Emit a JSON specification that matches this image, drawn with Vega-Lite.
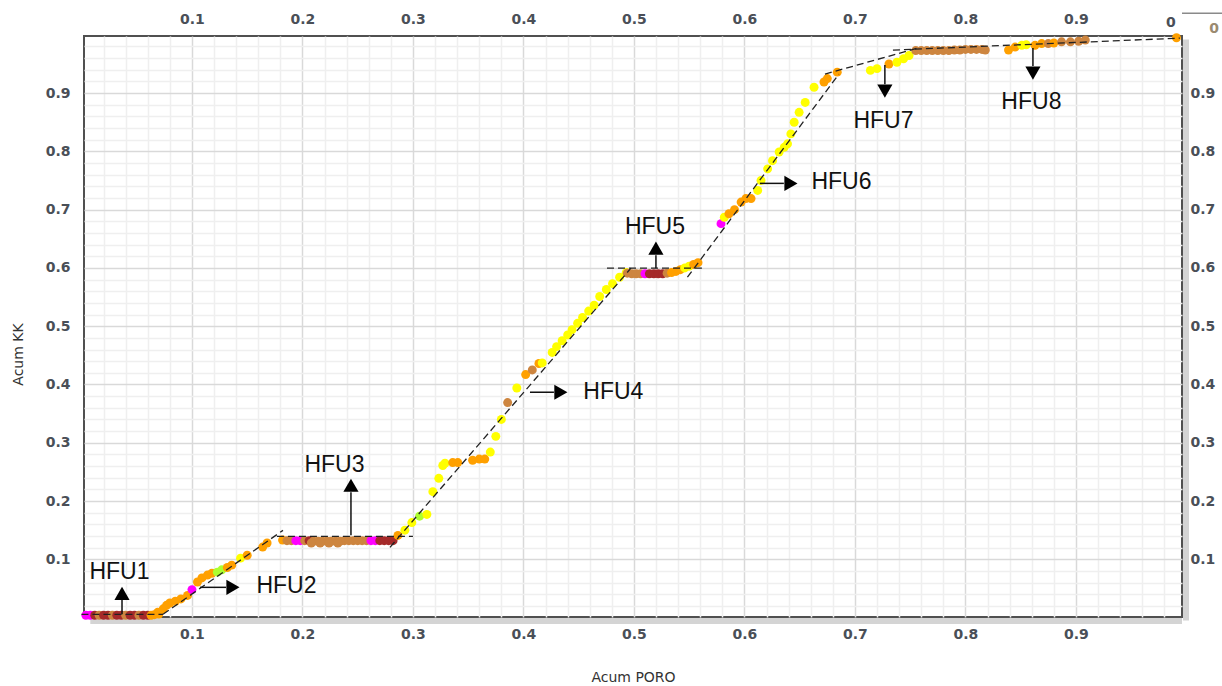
{
  "$schema": "https://vega.github.io/schema/vega-lite/v6.json",
  "width": 1098,
  "height": 581,
  "autosize": "none",
  "padding": {"left": 84, "top": 36, "right": 40, "bottom": 69},
  "background": "white",
  "config": {
    "view": {"stroke": "#505050", "strokeWidth": 2},
    "axis": {
      "labelFont": "DejaVu Sans",
      "labelFontWeight": "bold",
      "labelFontSize": 14,
      "labelColor": "#4a4f57",
      "ticks": false,
      "domain": false,
      "labelFlush": false,
      "labelOverlap": false,
      "titleFont": "DejaVu Sans",
      "titleFontWeight": "normal",
      "titleFontSize": 14,
      "titleColor": "#333333"
    }
  },
  "datasets": {
    "pts": [
      {"x":0.004,"y":0.004,"c":"M"},{"x":0.008,"y":0.004,"c":"M"},{"x":0.012,"y":0.004,"c":"R"},{"x":0.016,"y":0.004,"c":"P"},
      {"x":0.020,"y":0.004,"c":"R"},{"x":0.024,"y":0.004,"c":"R"},{"x":0.028,"y":0.004,"c":"P"},{"x":0.032,"y":0.004,"c":"R"},
      {"x":0.036,"y":0.004,"c":"R"},{"x":0.040,"y":0.004,"c":"P"},{"x":0.044,"y":0.004,"c":"R"},{"x":0.048,"y":0.004,"c":"R"},
      {"x":0.052,"y":0.004,"c":"P"},{"x":0.056,"y":0.004,"c":"R"},{"x":0.060,"y":0.004,"c":"R"},{"x":0.063,"y":0.004,"c":"O"},
      {"x":0.066,"y":0.005,"c":"O"},{"x":0.070,"y":0.006,"c":"O"},
      {"x":0.069,"y":0.009,"c":"O"},{"x":0.074,"y":0.015,"c":"O"},{"x":0.077,"y":0.021,"c":"O"},{"x":0.080,"y":0.025,"c":"O"},
      {"x":0.085,"y":0.028,"c":"O"},{"x":0.090,"y":0.032,"c":"O"},{"x":0.096,"y":0.038,"c":"O"},{"x":0.100,"y":0.048,"c":"M"},
      {"x":0.105,"y":0.061,"c":"O"},{"x":0.109,"y":0.068,"c":"O"},{"x":0.114,"y":0.073,"c":"O"},{"x":0.118,"y":0.076,"c":"O"},
      {"x":0.123,"y":0.078,"c":"G"},{"x":0.127,"y":0.082,"c":"G"},{"x":0.132,"y":0.086,"c":"O"},{"x":0.136,"y":0.090,"c":"O"},
      {"x":0.144,"y":0.102,"c":"Y"},{"x":0.150,"y":0.107,"c":"O"},{"x":0.164,"y":0.121,"c":"O"},{"x":0.168,"y":0.128,"c":"O"},
      {"x":0.182,"y":0.133,"c":"O"},{"x":0.186,"y":0.132,"c":"P"},{"x":0.190,"y":0.132,"c":"P"},{"x":0.194,"y":0.132,"c":"M"},
      {"x":0.198,"y":0.132,"c":"M"},{"x":0.202,"y":0.132,"c":"P"},{"x":0.206,"y":0.132,"c":"R"},{"x":0.210,"y":0.131,"c":"P"},
      {"x":0.214,"y":0.131,"c":"P"},{"x":0.218,"y":0.131,"c":"P"},{"x":0.222,"y":0.131,"c":"P"},{"x":0.226,"y":0.131,"c":"P"},
      {"x":0.230,"y":0.131,"c":"P"},{"x":0.234,"y":0.131,"c":"P"},{"x":0.238,"y":0.132,"c":"P"},{"x":0.242,"y":0.132,"c":"P"},
      {"x":0.246,"y":0.132,"c":"P"},{"x":0.250,"y":0.132,"c":"P"},{"x":0.254,"y":0.132,"c":"P"},{"x":0.258,"y":0.132,"c":"P"},
      {"x":0.208,"y":0.128,"c":"P"},{"x":0.216,"y":0.128,"c":"P"},{"x":0.224,"y":0.128,"c":"P"},{"x":0.232,"y":0.128,"c":"P"},
      {"x":0.262,"y":0.132,"c":"M"},{"x":0.266,"y":0.132,"c":"M"},{"x":0.270,"y":0.132,"c":"R"},{"x":0.274,"y":0.132,"c":"R"},
      {"x":0.278,"y":0.132,"c":"R"},{"x":0.282,"y":0.132,"c":"R"},
      {"x":0.2864,"y":0.141,"c":"O"},{"x":0.2927,"y":0.150,"c":"Y"},{"x":0.299,"y":0.163,"c":"Y"},{"x":0.306,"y":0.174,"c":"G"},
      {"x":0.3126,"y":0.177,"c":"Y"},{"x":0.318,"y":0.216,"c":"Y"},{"x":0.3234,"y":0.239,"c":"Y"},{"x":0.327,"y":0.261,"c":"Y"},
      {"x":0.329,"y":0.265,"c":"Y"},{"x":0.336,"y":0.266,"c":"O"},{"x":0.3406,"y":0.266,"c":"O"},{"x":0.354,"y":0.270,"c":"O"},
      {"x":0.360,"y":0.272,"c":"O"},{"x":0.365,"y":0.272,"c":"O"},{"x":0.370,"y":0.284,"c":"Y"},{"x":0.375,"y":0.311,"c":"Y"},
      {"x":0.380,"y":0.340,"c":"Y"},{"x":0.3857,"y":0.369,"c":"P"},{"x":0.394,"y":0.394,"c":"Y"},{"x":0.402,"y":0.417,"c":"O"},
      {"x":0.408,"y":0.425,"c":"P"},{"x":0.414,"y":0.436,"c":"O"},{"x":0.417,"y":0.437,"c":"Y"},{"x":0.426,"y":0.455,"c":"Y"},
      {"x":0.430,"y":0.465,"c":"Y"},{"x":0.435,"y":0.475,"c":"Y"},{"x":0.440,"y":0.485,"c":"Y"},{"x":0.444,"y":0.494,"c":"Y"},
      {"x":0.449,"y":0.505,"c":"Y"},{"x":0.4535,"y":0.515,"c":"Y"},{"x":0.459,"y":0.526,"c":"Y"},{"x":0.464,"y":0.536,"c":"Y"},
      {"x":0.469,"y":0.551,"c":"Y"},{"x":0.475,"y":0.563,"c":"Y"},{"x":0.4806,"y":0.573,"c":"Y"},{"x":0.487,"y":0.584,"c":"Y"},
      {"x":0.493,"y":0.592,"c":"Y"},
      {"x":0.494,"y":0.591,"c":"P"},{"x":0.498,"y":0.590,"c":"P"},{"x":0.502,"y":0.590,"c":"P"},{"x":0.506,"y":0.590,"c":"P"},
      {"x":0.510,"y":0.590,"c":"M"},{"x":0.514,"y":0.590,"c":"R"},{"x":0.518,"y":0.590,"c":"R"},{"x":0.522,"y":0.590,"c":"R"},
      {"x":0.526,"y":0.590,"c":"R"},{"x":0.530,"y":0.591,"c":"P"},{"x":0.534,"y":0.592,"c":"O"},{"x":0.538,"y":0.594,"c":"O"},
      {"x":0.542,"y":0.597,"c":"O"},{"x":0.546,"y":0.600,"c":"Y"},{"x":0.550,"y":0.603,"c":"Y"},{"x":0.554,"y":0.606,"c":"O"},
      {"x":0.558,"y":0.609,"c":"O"},
      {"x":0.5788,"y":0.676,"c":"M"},{"x":0.5818,"y":0.687,"c":"Y"},{"x":0.586,"y":0.693,"c":"O"},{"x":0.591,"y":0.700,"c":"O"},
      {"x":0.597,"y":0.713,"c":"O"},{"x":0.6013,"y":0.719,"c":"O"},{"x":0.606,"y":0.719,"c":"O"},{"x":0.612,"y":0.733,"c":"Y"},
      {"x":0.615,"y":0.750,"c":"Y"},{"x":0.621,"y":0.770,"c":"Y"},{"x":0.6254,"y":0.784,"c":"Y"},{"x":0.6314,"y":0.799,"c":"Y"},
      {"x":0.636,"y":0.807,"c":"Y"},{"x":0.639,"y":0.813,"c":"Y"},{"x":0.642,"y":0.830,"c":"Y"},{"x":0.645,"y":0.850,"c":"Y"},
      {"x":0.6495,"y":0.867,"c":"Y"},{"x":0.655,"y":0.884,"c":"Y"},{"x":0.663,"y":0.910,"c":"Y"},{"x":0.672,"y":0.919,"c":"O"},
      {"x":0.675,"y":0.925,"c":"O"},{"x":0.684,"y":0.936,"c":"O"},
      {"x":0.714,"y":0.939,"c":"Y"},{"x":0.720,"y":0.942,"c":"Y"},{"x":0.7308,"y":0.950,"c":"O"},{"x":0.738,"y":0.953,"c":"Y"},
      {"x":0.744,"y":0.959,"c":"Y"},{"x":0.749,"y":0.9645,"c":"Y"},{"x":0.755,"y":0.973,"c":"P"},
      {"x":0.760,"y":0.973,"c":"P"},{"x":0.765,"y":0.973,"c":"P"},{"x":0.770,"y":0.973,"c":"P"},{"x":0.775,"y":0.973,"c":"P"},
      {"x":0.780,"y":0.973,"c":"P"},{"x":0.785,"y":0.973,"c":"P"},{"x":0.790,"y":0.974,"c":"P"},{"x":0.795,"y":0.974,"c":"P"},
      {"x":0.800,"y":0.975,"c":"P"},{"x":0.805,"y":0.975,"c":"P"},{"x":0.810,"y":0.975,"c":"P"},{"x":0.815,"y":0.975,"c":"P"},
      {"x":0.818,"y":0.974,"c":"P"},
      {"x":0.839,"y":0.974,"c":"O"},{"x":0.845,"y":0.979,"c":"O"},{"x":0.851,"y":0.982,"c":"Y"},{"x":0.855,"y":0.983,"c":"Y"},
      {"x":0.863,"y":0.982,"c":"O"},{"x":0.869,"y":0.985,"c":"O"},{"x":0.875,"y":0.985,"c":"P"},{"x":0.880,"y":0.986,"c":"O"},
      {"x":0.887,"y":0.988,"c":"P"},{"x":0.895,"y":0.988,"c":"P"},{"x":0.9025,"y":0.989,"c":"P"},{"x":0.9085,"y":0.991,"c":"P"},
      {"x":0.991,"y":0.995,"c":"O"}
    ],
    "segs": [
      {"x":0.0,"y":0.0056,"x2":0.0738,"y2":0.0056},
      {"x":0.0738,"y":0.0056,"x2":0.1824,"y2":0.1497},
      {"x":0.1769,"y":0.1395,"x2":0.300,"y2":0.1395},
      {"x":0.2792,"y":0.1206,"x2":0.4973,"y2":0.5996},
      {"x":0.4756,"y":0.5996,"x2":0.5615,"y2":0.5996},
      {"x":0.5484,"y":0.5841,"x2":0.6855,"y2":0.9326},
      {"x":0.6729,"y":0.9326,"x2":0.7569,"y2":0.9773},
      {"x":0.7344,"y":0.9738,"x2":0.9941,"y2":0.9944}
    ],
    "shafts": [
      {"x":0.0367,"y":0.0056,"x2":0.0367,"y2":0.0313},
      {"x":0.1072,"y":0.0519,"x2":0.1308,"y2":0.0519},
      {"x":0.2439,"y":0.1412,"x2":0.2439,"y2":0.2150},
      {"x":0.4059,"y":0.3867,"x2":0.4276,"y2":0.3867},
      {"x":0.5199,"y":0.5996,"x2":0.5199,"y2":0.6219},
      {"x":0.6140,"y":0.7451,"x2":0.6357,"y2":0.7451},
      {"x":0.7271,"y":0.9481,"x2":0.7271,"y2":0.9153},
      {"x":0.8611,"y":0.9773,"x2":0.8611,"y2":0.9464}
    ],
    "heads": [
      {"x":0.0367,"y":0.0416,"s":"triangle-up"},
      {"x":0.1371,"y":0.0519,"s":"triangle-right"},
      {"x":0.2439,"y":0.2270,"s":"triangle-up"},
      {"x":0.4339,"y":0.3867,"s":"triangle-right"},
      {"x":0.5199,"y":0.6339,"s":"triangle-up"},
      {"x":0.6421,"y":0.7451,"s":"triangle-right"},
      {"x":0.7271,"y":0.9034,"s":"triangle-down"},
      {"x":0.8611,"y":0.9343,"s":"triangle-down"}
    ],
    "labels": [
      {"x":0.0344,"y":0.0785,"t":"HFU1"},
      {"x":0.1855,"y":0.0545,"t":"HFU2"},
      {"x":0.2290,"y":0.2622,"t":"HFU3"},
      {"x":0.4814,"y":0.3867,"t":"HFU4"},
      {"x":0.5190,"y":0.6708,"t":"HFU5"},
      {"x":0.6878,"y":0.7472,"t":"HFU6"},
      {"x":0.7258,"y":0.8519,"t":"HFU7"},
      {"x":0.8597,"y":0.8845,"t":"HFU8"}
    ],
    "zeroA": [
      {"x":0.986,"y":1.021,"t":"0"}
    ],
    "zeroB": [
      {"x":1.025,"y":1.010,"t":"0"}
    ],
    "topline": [
      {"x":0.996,"x2":1.04,"y":1.037}
    ],
    "frameR": [
      {"x":0.996,"y":-0.005,"y2":0.992}
    ],
    "frameB": [
      {"y":0.001,"x":0.008,"x2":0.996}
    ]
  },
  "layer": [
    {
      "data": {"name": "frameR"},
      "mark": {"type": "rule", "color": "#d4d4d4", "strokeWidth": 6, "xOffset": 4},
      "encoding": {
        "x": {"field": "x", "type": "quantitative", "axis": null, "scale": {"domain": [0.0023, 0.996], "nice": false, "zero": false}},
        "y": {"field": "y", "type": "quantitative", "axis": null, "scale": {"domain": [0.001, 0.998], "nice": false, "zero": false}},
        "y2": {"field": "y2"}
      }
    },
    {
      "data": {"name": "frameB"},
      "mark": {"type": "rule", "color": "#d4d4d4", "strokeWidth": 6, "yOffset": 4},
      "encoding": {
        "x": {"field": "x", "type": "quantitative", "axis": null},
        "y": {"field": "y", "type": "quantitative", "axis": null},
        "x2": {"field": "x2"}
      }
    },
    {
      "data": {"name": "pts"},
      "mark": {"type": "circle", "size": 80, "opacity": 1},
      "encoding": {
        "x": {
          "field": "x", "type": "quantitative",
          "scale": {"domain": [0.0023, 0.996], "nice": false, "zero": false},
          "axis": {
            "orient": "bottom",
            "values": [0.02,0.04,0.06,0.08,0.1,0.12,0.14,0.16,0.18,0.2,0.22,0.24,0.26,0.28,0.3,0.32,0.34,0.36,0.38,0.4,0.42,0.44,0.46,0.48,0.5,0.52,0.54,0.56,0.58,0.6,0.62,0.64,0.66,0.68,0.7,0.72,0.74,0.76,0.78,0.8,0.82,0.84,0.86,0.88,0.9,0.92,0.94,0.96,0.98],
            "labelExpr": "abs(datum.value*10 - round(datum.value*10)) < 0.001 ? format(datum.value, '.1f') : ''",
            "grid": true,
            "gridColor": {"condition": {"test": "abs(datum.value*10 - round(datum.value*10)) < 0.001", "value": "#d9d9d9"}, "value": "#efefef"},
            "gridWidth": 1.5,
            "labelPadding": 10,
            "title": "Acum PORO",
            "titleY": 60,
            "titleBaseline": "middle"
          }
        },
        "y": {
          "field": "y", "type": "quantitative",
          "scale": {"domain": [0.001, 0.998], "nice": false, "zero": false},
          "axis": {
            "orient": "left",
            "values": [0.02,0.04,0.06,0.08,0.1,0.12,0.14,0.16,0.18,0.2,0.22,0.24,0.26,0.28,0.3,0.32,0.34,0.36,0.38,0.4,0.42,0.44,0.46,0.48,0.5,0.52,0.54,0.56,0.58,0.6,0.62,0.64,0.66,0.68,0.7,0.72,0.74,0.76,0.78,0.8,0.82,0.84,0.86,0.88,0.9,0.92,0.94,0.96,0.98],
            "labelExpr": "abs(datum.value*10 - round(datum.value*10)) < 0.001 ? format(datum.value, '.1f') : ''",
            "grid": true,
            "gridColor": {"condition": {"test": "abs(datum.value*10 - round(datum.value*10)) < 0.001", "value": "#d9d9d9"}, "value": "#efefef"},
            "gridWidth": 1.5,
            "labelPadding": 14,
            "title": "Acum KK",
            "titleX": -66,
            "titleY": 318,
            "titleBaseline": "middle"
          }
        },
        "color": {
          "field": "c", "type": "nominal", "legend": null,
          "scale": {"domain": ["Y","O","P","R","M","G"], "range": ["#ffff00","#ffa000","#cd853f","#a52a2a","#ff00ff","#adff2f"]}
        }
      }
    },
    {
      "data": {"name": "segs"},
      "mark": {"type": "rule", "color": "#222222", "strokeWidth": 1.3, "strokeDash": [7, 4]},
      "encoding": {
        "x": {
          "field": "x", "type": "quantitative",
          "scale": {"domain": [0.0023, 0.996], "nice": false, "zero": false},
          "axis": {"orient": "top", "values": [0.1,0.2,0.3,0.4,0.5,0.6,0.7,0.8,0.9], "format": ".1f", "grid": false, "labelPadding": 10, "title": null}
        },
        "y": {
          "field": "y", "type": "quantitative",
          "scale": {"domain": [0.001, 0.998], "nice": false, "zero": false},
          "axis": {"orient": "right", "values": [0.1,0.2,0.3,0.4,0.5,0.6,0.7,0.8,0.9], "format": ".1f", "grid": false, "labelPadding": 8, "title": null}
        },
        "x2": {"field": "x2"},
        "y2": {"field": "y2"}
      }
    },
    {
      "data": {"name": "shafts"},
      "mark": {"type": "rule", "color": "#111111", "strokeWidth": 1.5},
      "encoding": {
        "x": {"field": "x", "type": "quantitative", "axis": null},
        "y": {"field": "y", "type": "quantitative", "axis": null},
        "x2": {"field": "x2"},
        "y2": {"field": "y2"}
      }
    },
    {
      "data": {"name": "heads"},
      "mark": {"type": "point", "filled": true, "size": 230, "color": "#000000", "opacity": 1},
      "encoding": {
        "x": {"field": "x", "type": "quantitative", "axis": null},
        "y": {"field": "y", "type": "quantitative", "axis": null},
        "shape": {"field": "s", "type": "nominal", "scale": null}
      }
    },
    {
      "data": {"name": "labels"},
      "mark": {"type": "text", "font": "Liberation Sans", "fontSize": 23, "color": "#111111", "align": "center", "baseline": "middle"},
      "encoding": {
        "x": {"field": "x", "type": "quantitative", "axis": null},
        "y": {"field": "y", "type": "quantitative", "axis": null},
        "text": {"field": "t"}
      }
    },
    {
      "data": {"name": "zeroA"},
      "mark": {"type": "text", "font": "DejaVu Sans", "fontWeight": "bold", "fontSize": 14, "align": "center", "baseline": "middle", "color": "#4a4f57"},
      "encoding": {
        "x": {"field": "x", "type": "quantitative", "axis": null},
        "y": {"field": "y", "type": "quantitative", "axis": null},
        "text": {"field": "t"}
      }
    },
    {
      "data": {"name": "zeroB"},
      "mark": {"type": "text", "font": "DejaVu Sans", "fontWeight": "bold", "fontSize": 14, "align": "center", "baseline": "middle", "color": "#9a8a70"},
      "encoding": {
        "x": {"field": "x", "type": "quantitative", "axis": null},
        "y": {"field": "y", "type": "quantitative", "axis": null},
        "text": {"field": "t"}
      }
    },
    {
      "data": {"name": "topline"},
      "mark": {"type": "rule", "color": "#8a8a8a", "strokeWidth": 1.5},
      "encoding": {
        "x": {"field": "x", "type": "quantitative", "axis": null},
        "y": {"field": "y", "type": "quantitative", "axis": null},
        "x2": {"field": "x2"}
      }
    }
  ],
  "resolve": {"axis": {"x": "independent", "y": "independent"}}
}
